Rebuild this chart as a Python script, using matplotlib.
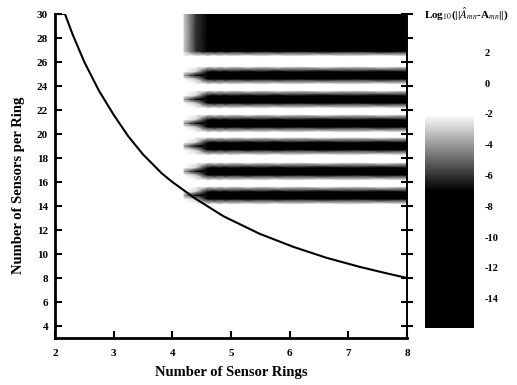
import numpy as np
import matplotlib
matplotlib.use("Agg")
import matplotlib.pyplot as plt
from matplotlib.colors import Normalize

plt.rcParams['font.family'] = ['Liberation Serif', 'DejaVu Serif']
plt.rcParams['mathtext.fontset'] = 'stix'

# boundary curve (min sensors per ring for a given number of rings)
rings_curve = [2.0, 2.17, 2.3, 2.5, 2.75, 3.0, 3.25, 3.5, 3.82, 4.0, 4.385, 4.87,
               5.49, 6.06, 6.63, 7.2, 7.6, 8.0]
sensors_curve = [30.0, 30.0, 28.3, 26.0, 23.6, 21.6, 19.8, 18.3, 16.72, 16.0, 14.64, 13.15,
                 11.68, 10.6, 9.68, 8.92, 8.45, 8.0]

# error map: log10 of coefficient error
rings_grid = [4.2, 4.4, 4.6, 4.8, 5.0, 5.5, 6.0, 7.0, 8.0]
band_centers = [14.9, 16.9, 19.0, 20.9, 22.9, 24.9]      # dark stripes (sensors per ring)
band_core = [-4, -9, -12, -14, -14, -14, -14, -14, -14]  # value on stripe centre line
band_edge = [-1, -3, -7, -11, -13, -14, -14, -14, -14]   # value near stripe edge
block_bottom = 26.9                                       # solid dark region above this
block_vals = [-3, -6, -12, -14, -14, -14, -14, -14, -14]
clean_val = 0.0                                           # light gaps between stripes

x_ticks = [2, 3, 4, 5, 6, 7, 8]
y_ticks = list(range(4, 31, 2))
cbar_ticks = [2, 0, -2, -4, -6, -8, -10, -12, -14]
cbar_range = (-15.9, -1.1)

# assemble the gouraud mesh rows from the stripes
y_nodes, rows = [], []
for c in band_centers:
    for dy, vals in [(-0.75, None), (-0.3, band_edge), (0.0, band_core),
                     (0.3, band_edge), (0.75, None)]:
        y_nodes.append(c + dy)
        rows.append([clean_val] * len(rings_grid) if vals is None else vals)
y_nodes += [block_bottom - 0.4, block_bottom, 30.0]
rows += [[clean_val] * len(rings_grid), block_vals, block_vals]

norm = Normalize(vmin=-7, vmax=-2, clip=True)

fig = plt.figure(figsize=(5.17, 3.85), dpi=100)
ax = fig.add_axes([55 / 517, 47 / 385, 352 / 517, 324 / 385])

X, Y = np.meshgrid(rings_grid, y_nodes)
ax.pcolormesh(X, Y, np.array(rows, dtype=float), cmap='gray', norm=norm,
              shading='gouraud', zorder=1)
ax.plot(rings_curve, sensors_curve, color='black', lw=1.5, zorder=3)

ax.set_xlim(2, 8)
ax.set_ylim(3, 30)
ax.set_xticks(x_ticks)
ax.set_yticks(y_ticks)
ax.set_xticklabels([str(v) for v in x_ticks], fontsize=8, fontweight='bold')
ax.set_yticklabels([str(v) for v in y_ticks], fontsize=8, fontweight='bold')
ax.spines['top'].set_visible(False)
for s in ['left', 'bottom']:
    ax.spines[s].set_linewidth(2.0)
ax.spines['right'].set_linewidth(1.4)
ax.tick_params(axis='x', direction='in', length=5, width=1.5, pad=8)
ax.tick_params(axis='y', direction='in', length=5, width=1.5, pad=5,
               right=True, labelright=False)
# right side ticks cross the spine
for t in ax.yaxis.get_major_ticks():
    t.tick2line.set_marker('_')
    t.tick2line.set_markersize(9)
    t.tick2line.set_markeredgewidth(1.5)

ax.set_xlabel('Number of Sensor Rings', fontsize=10.5, fontweight='bold', labelpad=6)
ax.set_ylabel('Number of Sensors per Ring', fontsize=10.5, fontweight='bold')
ax.yaxis.set_label_coords(-0.085, 0.47)

# colour bar
cax = fig.add_axes([425 / 517, (385 - 328) / 385, 49 / 517, 288 / 385])
grad = np.linspace(cbar_range[1], cbar_range[0], 200).reshape(-1, 1)
cax.imshow(grad, cmap='gray', norm=norm, aspect='auto',
           extent=[0, 1, cbar_range[0], cbar_range[1]])
cax.set_xlim(0, 1)
cax.set_ylim(-15.9, 2.8)
for s in cax.spines.values():
    s.set_visible(False)
cax.set_xticks([])
cax.yaxis.tick_right()
cax.set_yticks(cbar_ticks)
cax.set_yticklabels([str(v) for v in cbar_ticks], fontsize=7.5, fontweight='bold')
cax.tick_params(axis='y', length=0, pad=8)

fig.text(424 / 517, 1 - 14 / 385, r'Log$_{10}$(||$\hat{A}_{mn}$-A$_{mn}$||)',
         fontsize=8, fontweight='bold', ha='left', va='center')

fig.savefig('out.png', dpi=100)
